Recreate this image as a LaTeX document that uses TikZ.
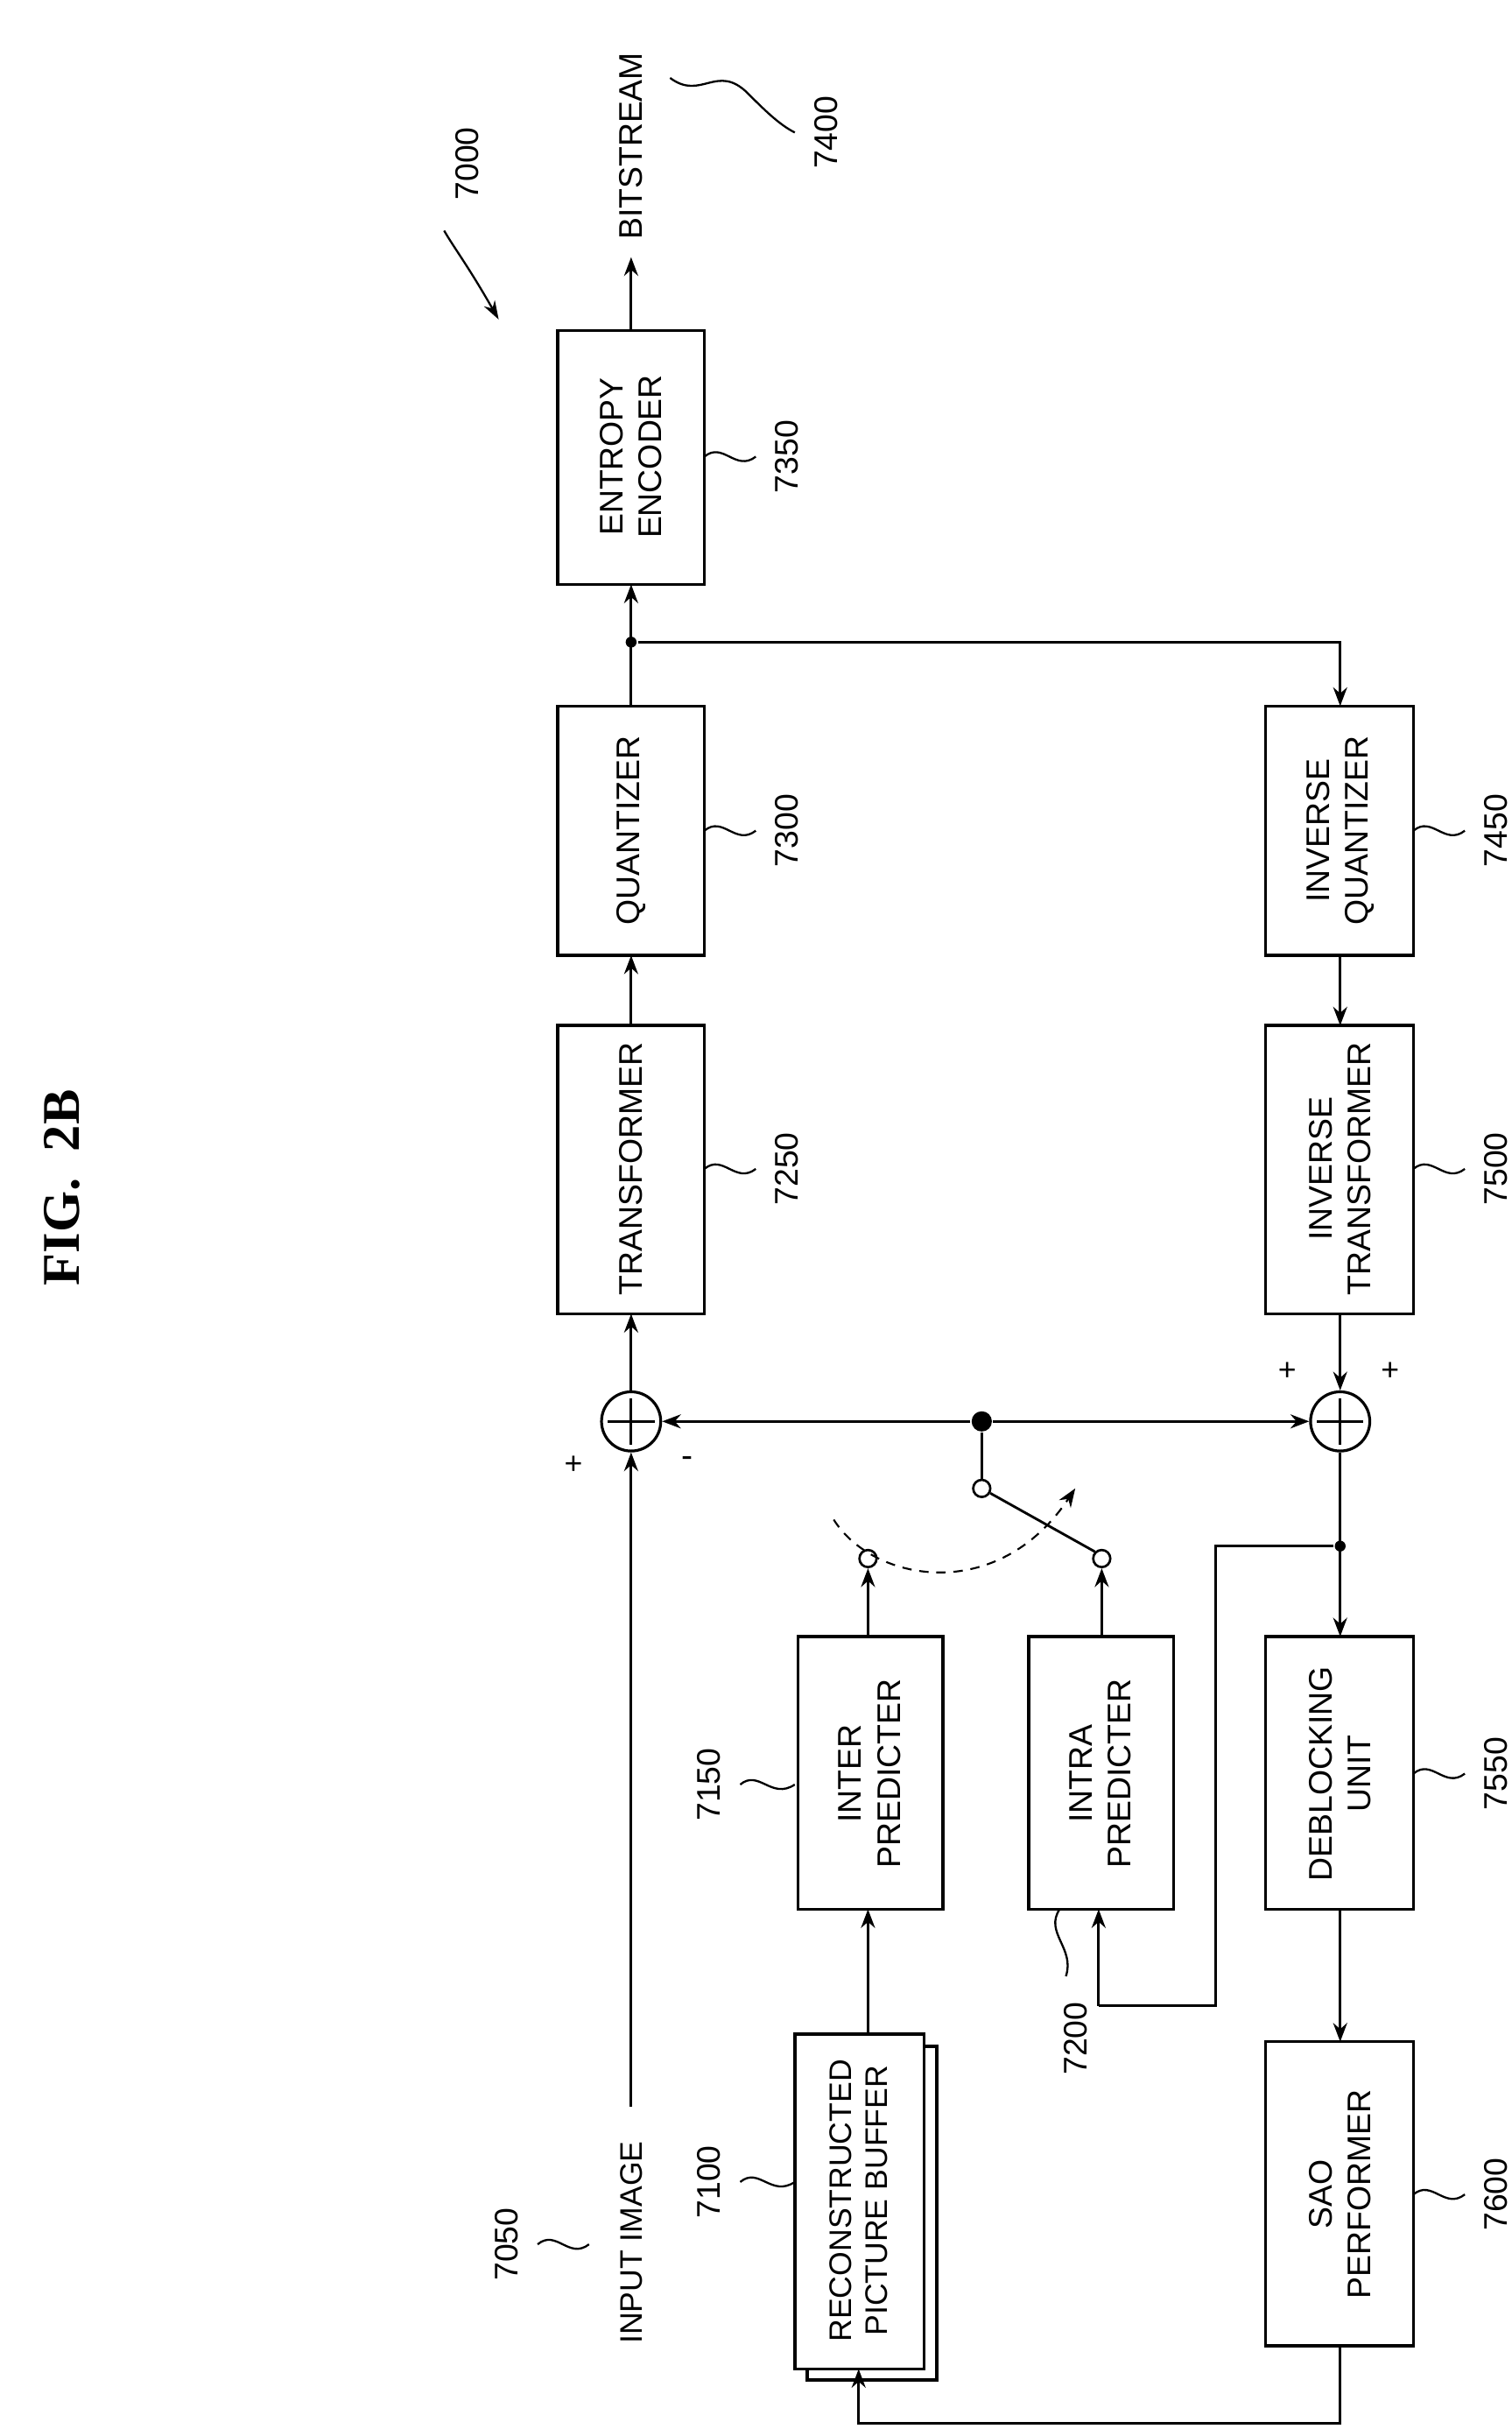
\documentclass[tikz,border=0pt]{standalone}
\usepackage{fontspec}
\setmainfont{Liberation Sans}
\newfontfamily\titlefont{Liberation Serif}
\usetikzlibrary{arrows.meta}
\begin{document}
\begin{tikzpicture}[x=1pt,y=-1pt,line width=1.6pt,
  box/.style={draw,line width=2pt,fill=white},
  txt/.style={rotate=90,align=center,font=\fontsize{21}{25}\selectfont},
  lab/.style={rotate=90,font=\fontsize{21}{24}\selectfont},
  arr/.style={-{Stealth[length=12pt,width=9pt]}},
  dot/.style={circle,fill,inner sep=0pt,minimum size=7pt},
  odot/.style={circle,draw,fill=white,line width=1.5pt,inner sep=0pt,minimum size=11pt},
  sum/.style={circle,draw,line width=1.8pt,minimum size=38pt,inner sep=0pt}]
\useasboundingbox (0,0) rectangle (970,1563);
\node[rotate=90,font=\titlefont\bfseries\fontsize{34}{36}\selectfont] (title) at (40,762) {FIG.\ \ 2B};
% boxes
\draw[box] (358,212) rectangle (452,375); \node[txt] (ent) at (405,293) {ENTROPY\\ENCODER};
\draw[box] (358,453) rectangle (452,613); \node[txt] (qua) at (405,533) {QUANTIZER};
\draw[box] (358,658) rectangle (452,843); \node[txt] (tra) at (405,750) {TRANSFORMER};
\draw[box] (812,453) rectangle (907,613); \node[txt] (iq) at (860,533) {INVERSE\\QUANTIZER};
\draw[box] (812,658) rectangle (907,843); \node[txt] (it) at (860,750) {INVERSE\\TRANSFORMER};
\draw[box] (812,1050) rectangle (907,1225); \node[txt] (deb) at (860,1138) {DEBLOCKING\\UNIT};
\draw[box] (812,1310) rectangle (907,1505); \node[txt] (sao) at (860,1408) {SAO\\PERFORMER};
\draw[box] (512,1050) rectangle (605,1225); \node[txt] (inter) at (558,1138) {INTER\\PREDICTER};
\draw[box] (660,1050) rectangle (753,1225); \node[txt] (intra) at (706,1138) {INTRA\\PREDICTER};
\draw[box] (518,1313) rectangle (601,1527);
\draw[box] (510,1305) rectangle (593,1520); \node[txt,font=\fontsize{20}{23}\selectfont] (rpb) at (551,1412) {RECONSTRUCTED\\PICTURE BUFFER};
% adders
\node[sum] (s1) at (405,912) {}; \draw (390,912)--(420,912) (405,897)--(405,927);
\node[sum] (s2) at (860,912) {}; \draw (845,912)--(875,912) (860,897)--(860,927);
\node[font=\fontsize{20}{20}\selectfont] at (368,940) {+};
\node[font=\fontsize{22}{22}\selectfont] at (441,938) {-};
\node[font=\fontsize{20}{20}\selectfont] at (826,880) {+};
\node[font=\fontsize{20}{20}\selectfont] at (892,880) {+};
% input
\node[lab,anchor=west,font=\fontsize{20}{24}\selectfont] (in) at (405,1508) {INPUT IMAGE};
\draw[arr] (405,1352) -- (s1);
% main chain
\draw[arr] (s1) -- (405,843);
\draw[arr] (405,658) -- (405,613);
\draw[arr] (405,453) -- (405,375);
\node[dot] (j1) at (405,412) {};
\draw[arr] (j1) -- (860,412) -- (860,453);
\draw[arr] (860,613) -- (860,658);
\draw[arr] (860,843) -- (s2);
\draw[arr] (405,212) -- (405,165);
\node[lab,anchor=west] (bs) at (405,158) {BITSTREAM};
% prediction line
\node[dot,minimum size=13pt] (j2) at (630,912) {};
\draw[arr] (j2) -- (s1);
\draw[arr] (j2) -- (s2);
\node[odot] (sw) at (630,955) {};
\draw (j2) -- (sw);
\node[odot] (o1) at (557,1000) {};
\node[odot] (o2) at (707,1000) {};
\draw (sw) -- (o2.north west);
\draw[arr] (557,1050) -- (o1);
\draw[arr] (707,1050) -- (o2);
\draw[dash pattern=on 6pt off 5pt,line width=1.2pt,-{Stealth[length=12pt,width=9pt]}] (535,975) .. controls (560,1015) and (640,1030) .. (690,955);
% reconstruction loop
\node[dot] (j3) at (860,992) {};
\draw[arr] (s2) -- (860,1050);
\draw (j3) -- (780,992) -- (780,1287) -- (705,1287);
\draw[arr] (705,1287) -- (705,1225);
\draw[arr] (860,1225) -- (860,1310);
\draw[arr] (860,1505) -- (860,1555) -- (551,1555) -- (551,1520);
\draw[arr] (557,1305) -- (557,1225);
% labels
\tikzset{lead/.style={line width=1.3pt}}
\foreach \x/\y/\t in {452/293/7350,452/533/7300,452/750/7250,907/533/7450,907/750/7500,907/1138/7550,907/1408/7600}{
  \draw[lead] (\x,\y) .. controls (\x+12,\y-10) and (\x+20,\y+10) .. (\x+33,\y);
  \node[lab] at (\x+53,\y) {\t};}
\foreach \y/\t in {1145/7150,1400/7100}{
  \draw[lead] (475,\y) .. controls (487,\y-10) and (495,\y+10) .. (510,\y);
  \node[lab] at (455,\y) {\t};}
\draw[lead] (345,1440) .. controls (357,1430) and (365,1450) .. (378,1440);
\node[lab] at (325,1440) {7050};
\draw[lead] (680,1225) .. controls (670,1240) and (690,1250) .. (684,1268);
\node[lab] at (690,1308) {7200};
\draw[lead] (430,50) .. controls (450,65) and (460,40) .. (480,60) .. controls (490,70) and (500,80) .. (510,85);
\node[lab] at (530,85) {7400};
\node[lab] (lbl7000) at (300,105) {7000};
\draw[line width=1.3pt,-{Stealth[length=12pt,width=8pt]}] (285,148) .. controls (292,160) and (300,170) .. (320,205);
\end{tikzpicture}
\end{document}
